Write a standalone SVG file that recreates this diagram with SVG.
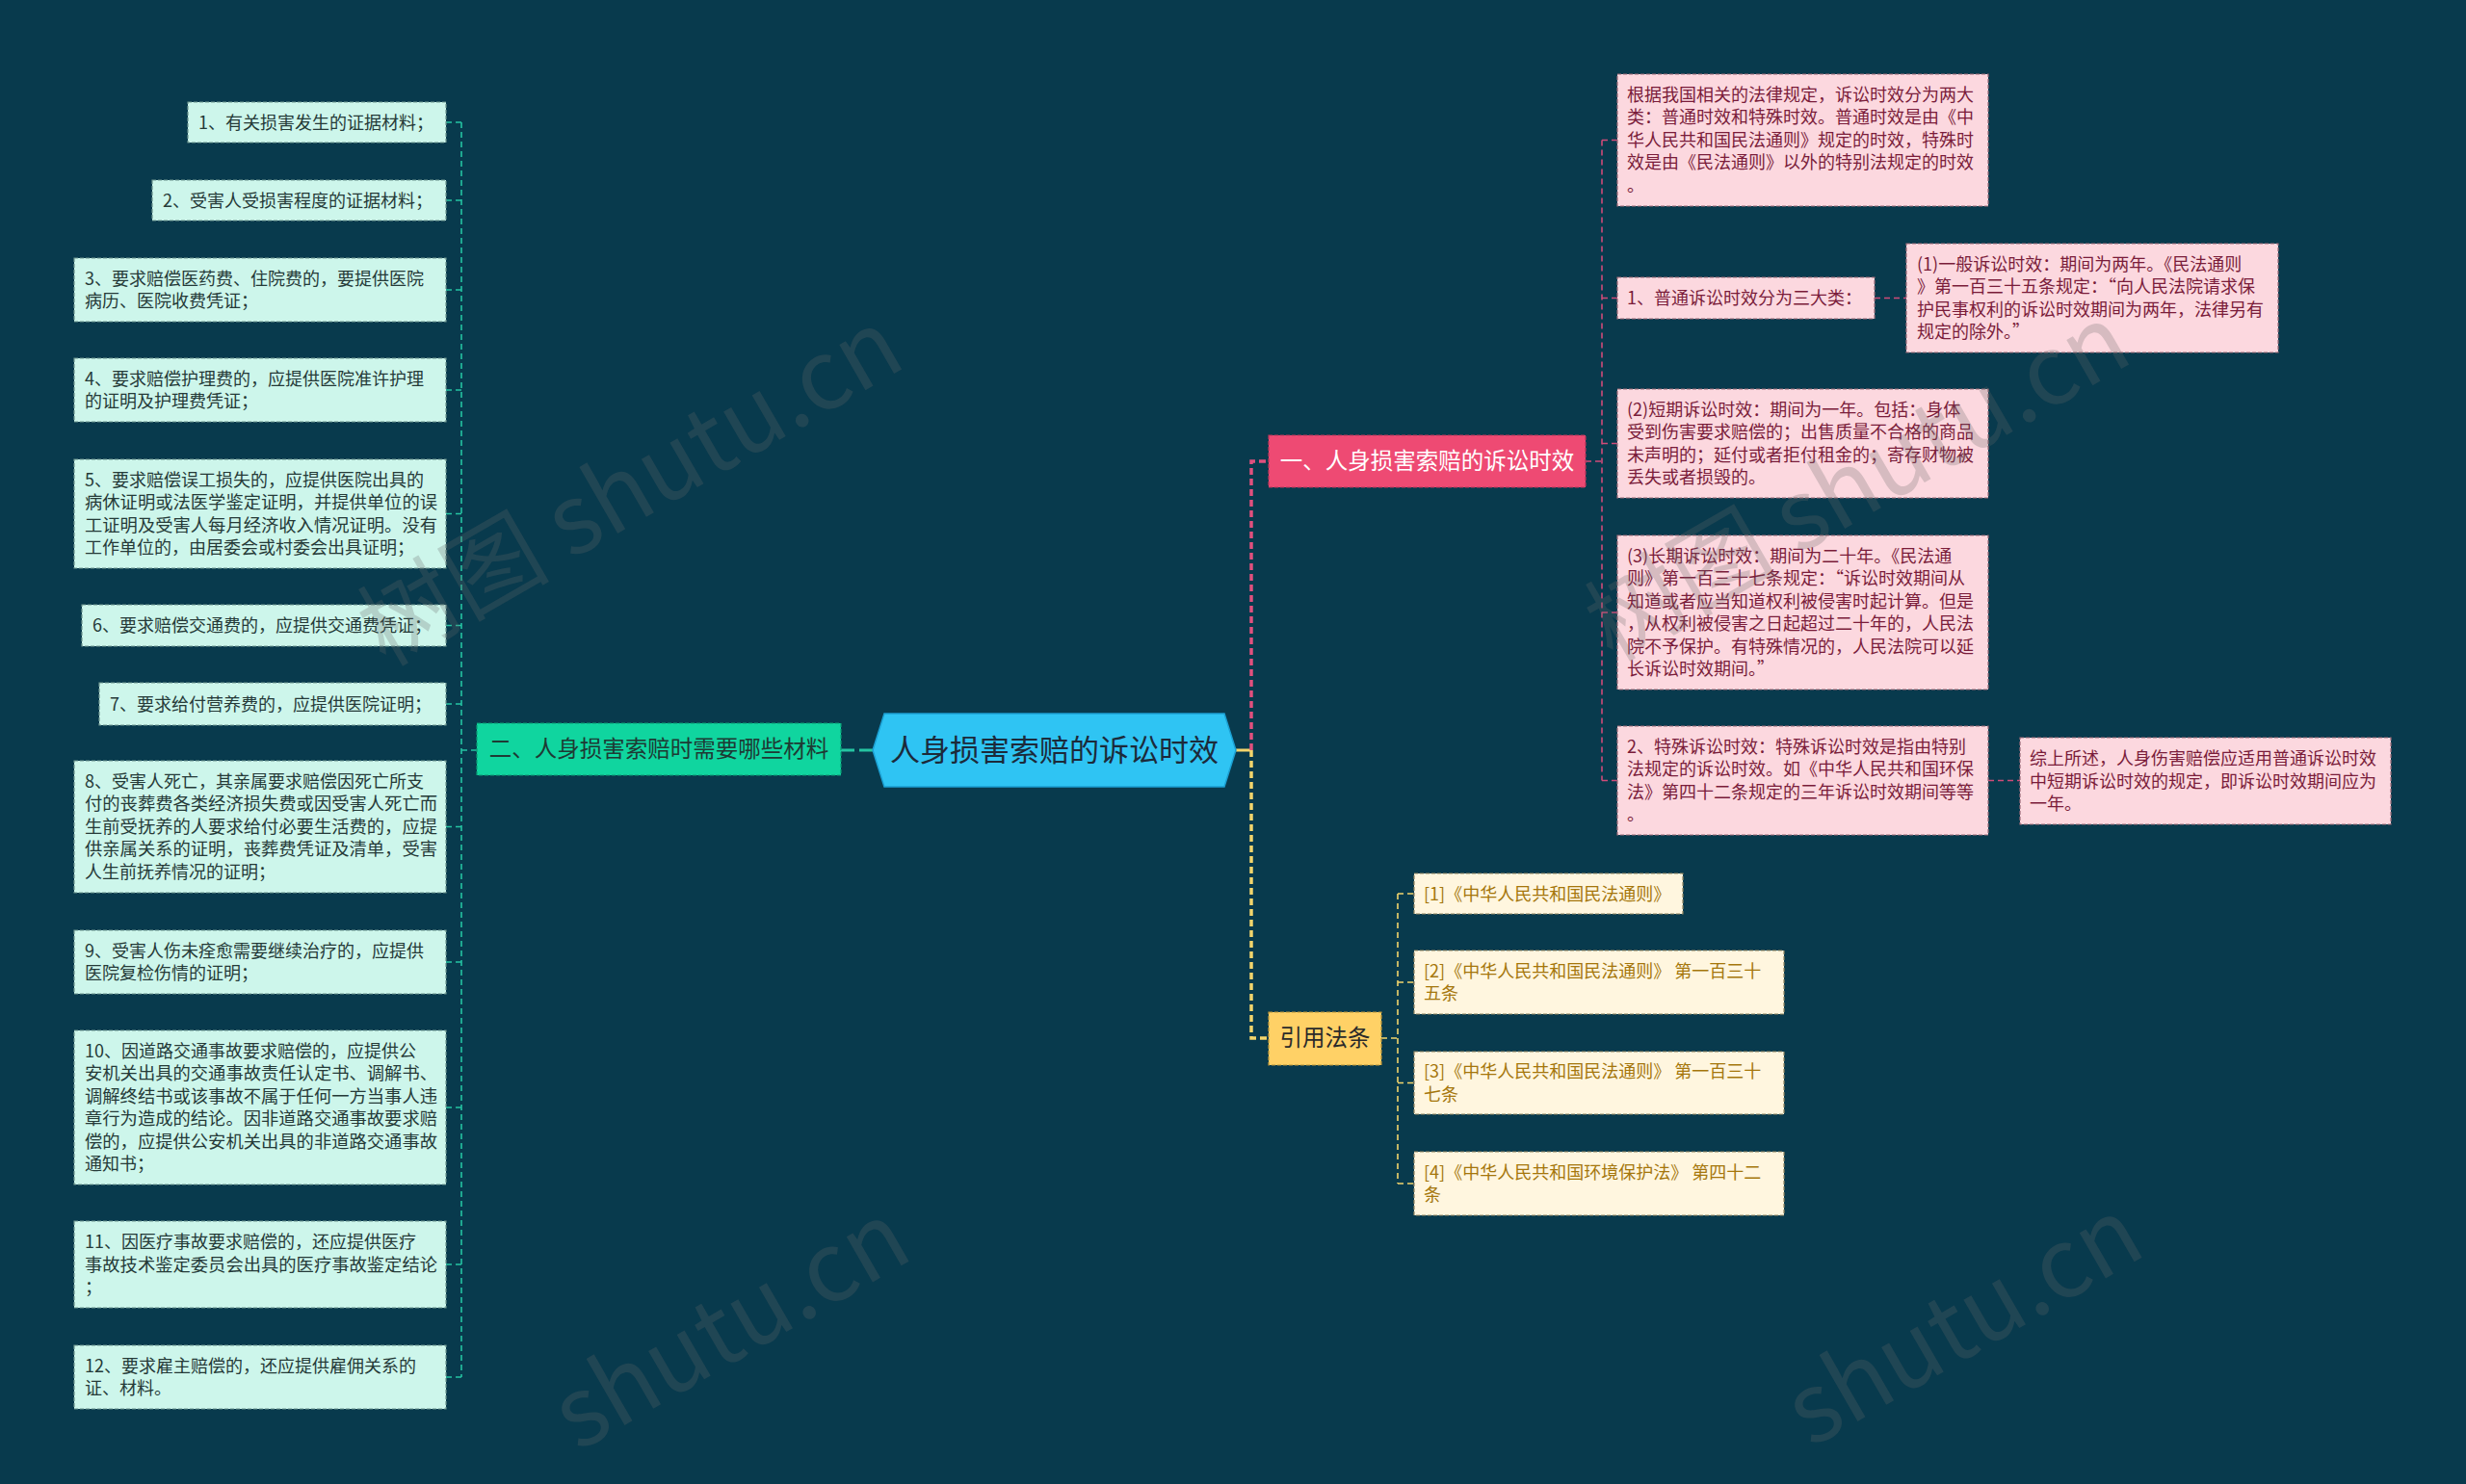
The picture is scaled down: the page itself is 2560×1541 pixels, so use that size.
<svg xmlns="http://www.w3.org/2000/svg" width="2560" height="1541" viewBox="0 0 2560 1541">
<style>
text{font-family:"Noto Sans CJK SC","Noto Sans",sans-serif}
.lt{font-size:18px;fill:#253a38}
.pt{font-size:18px;fill:#7a1c3a}
.yt{font-size:18px;fill:#a5760c}
.lb{fill:#cdf6eb;stroke:#6e9690;stroke-width:1.2;stroke-dasharray:4 2}
.pb{fill:#fcd8df;stroke:#9b6b79;stroke-width:1.2;stroke-dasharray:4 2}
.yb{fill:#fff6df;stroke:#8f8460;stroke-width:1.2;stroke-dasharray:4 2}
.cl{fill:none;stroke:#25c4a2;stroke-width:1.6;stroke-dasharray:6 4}
.cp{fill:none;stroke:#cf4b79;stroke-width:1.6;stroke-dasharray:6 4}
.cy{fill:none;stroke:#f2d56c;stroke-width:1.6;stroke-dasharray:6 4}
.wm{font-size:100px;fill:#6a6a6a;fill-opacity:0.26}
</style>
<rect width="2560" height="1541" fill="#083a4d"/>

<g id="connectors">
  <path d="M1283,779 H1299" fill="none" stroke="#f2d56c" stroke-width="3"/>
  <path d="M1299,779 V479 H1317" fill="none" stroke="#e0507e" stroke-width="3.5" stroke-dasharray="7 4"/>
  <path d="M1299,779 V1078 H1317" fill="none" stroke="#f2d56c" stroke-width="3.5" stroke-dasharray="7 4"/>
  <path d="M906,779 H873" fill="none" stroke="#25c4a2" stroke-width="3" stroke-dasharray="14 5"/>
  <!-- left bracket -->
  <path class="cl" d="M495,779 H479"/>
  <path class="cl" d="M479,127 V1430"/>
  <path class="cl" d="M479,127 H463 M479,208 H463 M479,301 H463 M479,405 H463 M479,533.5 H463 M479,649.5 H463 M479,731 H463 M479,858.5 H463 M479,999 H463 M479,1150 H463 M479,1313 H463 M479,1430 H463"/>
  <!-- pink bracket -->
  <path class="cp" d="M1646,479 H1663"/>
  <path class="cp" d="M1663,145.5 V810.5"/>
  <path class="cp" d="M1663,145.5 H1679 M1663,309.5 H1679 M1663,460.5 H1679 M1663,636 H1679 M1663,810.5 H1679"/>
  <path class="cp" d="M1946,309.5 H1979"/>
  <path class="cp" d="M2064,810.5 H2097"/>
  <!-- yellow bracket -->
  <path class="cy" d="M1434,1078 H1451"/>
  <path class="cy" d="M1451,928 V1229"/>
  <path class="cy" d="M1451,928 H1468 M1451,1020 H1468 M1451,1124.5 H1468 M1451,1229 H1468"/>
</g>

<g id="root">
  <polygon points="906,779 918,741 1271,741 1283,779 1271,817 918,817" fill="#2fc4f3" stroke="#1b9fd2" stroke-width="1.5"/>
  <text x="1094.5" y="790" text-anchor="middle" font-size="31" fill="#1c2a3a">人身损害索赔的诉讼时效</text>
</g>

<g id="branch-materials">
  <rect x="495" y="751" width="378" height="54" fill="#10d59f" stroke="#0a9a74" stroke-width="1.2" stroke-dasharray="4 2"/>
  <text x="684" y="786" text-anchor="middle" font-size="23.5" fill="#1e3a34">二、人身损害索赔时需要哪些材料</text>
</g>

<g id="branch-limitation">
  <rect x="1317" y="452" width="329" height="54" fill="#ee4a73" stroke="#b8365a" stroke-width="1.2" stroke-dasharray="4 2"/>
  <text x="1481.5" y="487" text-anchor="middle" font-size="23.5" fill="#ffffff">一、人身损害索赔的诉讼时效</text>
</g>

<g id="branch-laws">
  <rect x="1317" y="1051" width="117" height="55" fill="#ffd166" stroke="#b8933a" stroke-width="1.2" stroke-dasharray="4 2"/>
  <text x="1375.5" y="1086" text-anchor="middle" font-size="23.5" fill="#2a2a2a">引用法条</text>
</g>

<!-- left children -->
<g id="m1"><rect class="lb" x="195" y="106" width="268" height="42"/>
  <text class="lt" x="206" y="133.5">1、有关损害发生的证据材料；</text></g>
<g id="m2"><rect class="lb" x="158" y="187" width="305" height="42"/>
  <text class="lt" x="169" y="214.5">2、受害人受损害程度的证据材料；</text></g>
<g id="m3"><rect class="lb" x="77" y="268" width="386" height="66"/>
  <text class="lt" x="88" y="295.5">3、要求赔偿医药费、住院费的，要提供医院</text>
  <text class="lt" x="88" y="319">病历、医院收费凭证；</text></g>
<g id="m4"><rect class="lb" x="77" y="372" width="386" height="66"/>
  <text class="lt" x="88" y="399.5">4、要求赔偿护理费的，应提供医院准许护理</text>
  <text class="lt" x="88" y="423">的证明及护理费凭证；</text></g>
<g id="m5"><rect class="lb" x="77" y="477" width="386" height="113"/>
  <text class="lt" x="88" y="504.5">5、要求赔偿误工损失的，应提供医院出具的</text>
  <text class="lt" x="88" y="528" textLength="366" lengthAdjust="spacingAndGlyphs">病休证明或法医学鉴定证明，并提供单位的误</text>
  <text class="lt" x="88" y="551.5" textLength="366" lengthAdjust="spacingAndGlyphs">工证明及受害人每月经济收入情况证明。没有</text>
  <text class="lt" x="88" y="575">工作单位的，由居委会或村委会出具证明；</text></g>
<g id="m6"><rect class="lb" x="85" y="628" width="378" height="43"/>
  <text class="lt" x="96" y="656">6、要求赔偿交通费的，应提供交通费凭证；</text></g>
<g id="m7"><rect class="lb" x="103" y="709" width="360" height="44"/>
  <text class="lt" x="114" y="737.5">7、要求给付营养费的，应提供医院证明；</text></g>
<g id="m8"><rect class="lb" x="77" y="790" width="386" height="137"/>
  <text class="lt" x="88" y="817.5">8、受害人死亡，其亲属要求赔偿因死亡所支</text>
  <text class="lt" x="88" y="841" textLength="366" lengthAdjust="spacingAndGlyphs">付的丧葬费各类经济损失费或因受害人死亡而</text>
  <text class="lt" x="88" y="864.5" textLength="366" lengthAdjust="spacingAndGlyphs">生前受抚养的人要求给付必要生活费的，应提</text>
  <text class="lt" x="88" y="888" textLength="366" lengthAdjust="spacingAndGlyphs">供亲属关系的证明，丧葬费凭证及清单，受害</text>
  <text class="lt" x="88" y="911.5">人生前抚养情况的证明；</text></g>
<g id="m9"><rect class="lb" x="77" y="966" width="386" height="66"/>
  <text class="lt" x="88" y="993.5">9、受害人伤未痊愈需要继续治疗的，应提供</text>
  <text class="lt" x="88" y="1017">医院复检伤情的证明；</text></g>
<g id="m10"><rect class="lb" x="77" y="1070" width="386" height="160"/>
  <text class="lt" x="88" y="1097.5">10、因道路交通事故要求赔偿的，应提供公</text>
  <text class="lt" x="88" y="1121" textLength="366" lengthAdjust="spacingAndGlyphs">安机关出具的交通事故责任认定书、调解书、</text>
  <text class="lt" x="88" y="1144.5" textLength="366" lengthAdjust="spacingAndGlyphs">调解终结书或该事故不属于任何一方当事人违</text>
  <text class="lt" x="88" y="1168" textLength="366" lengthAdjust="spacingAndGlyphs">章行为造成的结论。因非道路交通事故要求赔</text>
  <text class="lt" x="88" y="1191.5" textLength="366" lengthAdjust="spacingAndGlyphs">偿的，应提供公安机关出具的非道路交通事故</text>
  <text class="lt" x="88" y="1215">通知书；</text></g>
<g id="m11"><rect class="lb" x="77" y="1268" width="386" height="90"/>
  <text class="lt" x="88" y="1296">11、因医疗事故要求赔偿的，还应提供医疗</text>
  <text class="lt" x="88" y="1319.5" textLength="366" lengthAdjust="spacingAndGlyphs">事故技术鉴定委员会出具的医疗事故鉴定结论</text>
  <text class="lt" x="88" y="1343">；</text></g>
<g id="m12"><rect class="lb" x="77" y="1397" width="386" height="66"/>
  <text class="lt" x="88" y="1424.5">12、要求雇主赔偿的，还应提供雇佣关系的</text>
  <text class="lt" x="88" y="1448">证、材料。</text></g>

<!-- pink children -->
<g id="p0"><rect class="pb" x="1679" y="77" width="385" height="137"/>
  <text class="pt" x="1689" y="104.5">根据我国相关的法律规定，诉讼时效分为两大</text>
  <text class="pt" x="1689" y="128">类：普通时效和特殊时效。普通时效是由《中</text>
  <text class="pt" x="1689" y="151.5">华人民共和国民法通则》规定的时效，特殊时</text>
  <text class="pt" x="1689" y="175">效是由《民法通则》以外的特别法规定的时效</text>
  <text class="pt" x="1689" y="198.5">。</text></g>
<g id="p1"><rect class="pb" x="1679" y="288" width="267" height="43"/>
  <text class="pt" x="1689" y="316">1、普通诉讼时效分为三大类：</text></g>
<g id="p1a"><rect class="pb" x="1979" y="253" width="386" height="113"/>
  <text class="pt" x="1990" y="280.5">(1)一般诉讼时效：期间为两年。《民法通则</text>
  <text class="pt" x="1990" y="304">》第一百三十五条规定：“向人民法院请求保</text>
  <text class="pt" x="1990" y="327.5">护民事权利的诉讼时效期间为两年，法律另有</text>
  <text class="pt" x="1990" y="351">规定的除外。”</text></g>
<g id="p2"><rect class="pb" x="1679" y="404" width="385" height="113"/>
  <text class="pt" x="1689" y="431.5">(2)短期诉讼时效：期间为一年。包括：身体</text>
  <text class="pt" x="1689" y="455">受到伤害要求赔偿的；出售质量不合格的商品</text>
  <text class="pt" x="1689" y="478.5">未声明的；延付或者拒付租金的；寄存财物被</text>
  <text class="pt" x="1689" y="502">丢失或者损毁的。</text></g>
<g id="p3"><rect class="pb" x="1679" y="556" width="385" height="160"/>
  <text class="pt" x="1689" y="583.5">(3)长期诉讼时效：期间为二十年。《民法通</text>
  <text class="pt" x="1689" y="607">则》第一百三十七条规定：“诉讼时效期间从</text>
  <text class="pt" x="1689" y="630.5">知道或者应当知道权利被侵害时起计算。但是</text>
  <text class="pt" x="1689" y="654">，从权利被侵害之日起超过二十年的，人民法</text>
  <text class="pt" x="1689" y="677.5">院不予保护。有特殊情况的，人民法院可以延</text>
  <text class="pt" x="1689" y="701">长诉讼时效期间。”</text></g>
<g id="p4"><rect class="pb" x="1679" y="754" width="385" height="113"/>
  <text class="pt" x="1689" y="781.5">2、特殊诉讼时效：特殊诉讼时效是指由特别</text>
  <text class="pt" x="1689" y="805">法规定的诉讼时效。如《中华人民共和国环保</text>
  <text class="pt" x="1689" y="828.5">法》第四十二条规定的三年诉讼时效期间等等</text>
  <text class="pt" x="1689" y="852">。</text></g>
<g id="p4a"><rect class="pb" x="2097" y="766" width="385" height="90"/>
  <text class="pt" x="2107" y="794">综上所述，人身伤害赔偿应适用普通诉讼时效</text>
  <text class="pt" x="2107" y="817.5">中短期诉讼时效的规定，即诉讼时效期间应为</text>
  <text class="pt" x="2107" y="841">一年。</text></g>

<!-- yellow children -->
<g id="r1"><rect class="yb" x="1468" y="907" width="279" height="42"/>
  <text class="yt" x="1478" y="934.5">[1]《中华人民共和国民法通则》</text></g>
<g id="r2"><rect class="yb" x="1468" y="987" width="384" height="66"/>
  <text class="yt" x="1478" y="1014.5">[2]《中华人民共和国民法通则》 第一百三十</text>
  <text class="yt" x="1478" y="1038">五条</text></g>
<g id="r3"><rect class="yb" x="1468" y="1092" width="384" height="65"/>
  <text class="yt" x="1478" y="1119">[3]《中华人民共和国民法通则》 第一百三十</text>
  <text class="yt" x="1478" y="1142.5">七条</text></g>
<g id="r4"><rect class="yb" x="1468" y="1196" width="384" height="66"/>
  <text class="yt" x="1478" y="1223.5">[4]《中华人民共和国环境保护法》 第四十二</text>
  <text class="yt" x="1478" y="1247">条</text></g>

<g id="watermarks">
  <text class="wm" transform="translate(400,693) rotate(-30)">树图 shutu.cn</text>
  <text class="wm" transform="translate(1674,688) rotate(-30)">树图 shutu.cn</text>
  <text class="wm" transform="translate(600,1508) rotate(-30)">shutu.cn</text>
  <text class="wm" transform="translate(1880,1504) rotate(-30)">shutu.cn</text>
</g>
</svg>
